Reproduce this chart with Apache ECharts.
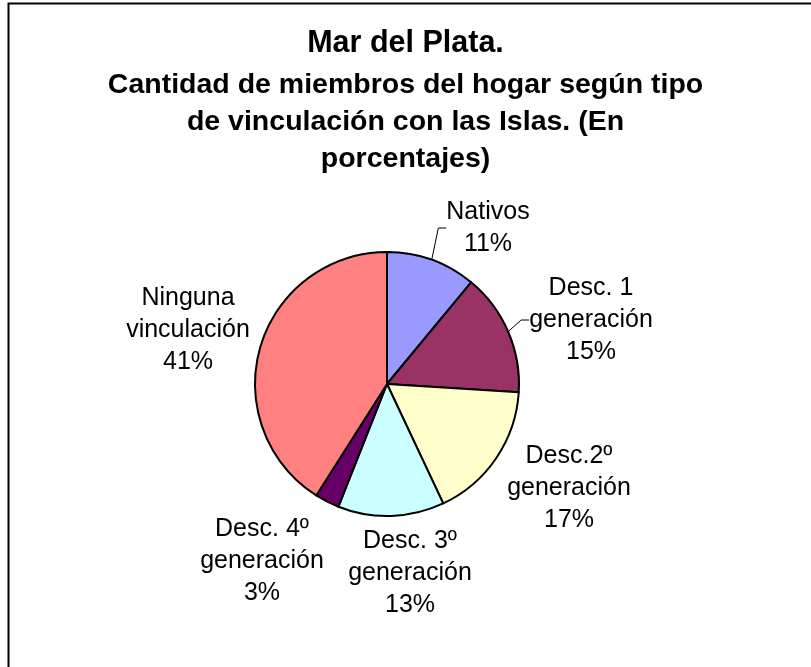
<!DOCTYPE html>
<html>
<head>
<meta charset="utf-8">
<title>Mar del Plata</title>
<script src="https://cdn.jsdelivr.net/npm/echarts@6/dist/echarts.min.js"></script>
<style>
  html, body { margin: 0; padding: 0; background: #fff; }
  #chart { width: 811px; height: 667px; }
</style>
</head>
<body>
<div id="chart"></div>
<script>
const categories = ['Nativos', 'Desc. 1\ngeneración', 'Desc.2º\ngeneración', 'Desc. 3º\ngeneración', 'Desc. 4º\ngeneración', 'Ninguna\nvinculación'];
const percentages = [11, 15, 17, 13, 3, 41];
const titleLines = ['Mar del Plata.', 'Cantidad de miembros del hogar según tipo', 'de vinculación con las Islas. (En', 'porcentajes)'];

// styling, kept apart from the values
const sliceColors = ['#9999FF', '#993366', '#FFFFCC', '#CCFFFF', '#660066', '#FF8080'];
const withLeader = [true, true, false, false, false, false];
const labelSpots = [[488, 228], [591, 320], [569, 488], [410, 573], [262, 561], [188, 330]];
const titleCentres = [44, 85, 122, 159];
const fontFamily = 'Arial, "Liberation Sans", sans-serif';

const chart = echarts.init(document.getElementById('chart'));

const titles = titleLines.map((t, i) => {
  const size = i === 0 ? 30.5 : 28.5;
  return {
    text: t,
    left: 'center',
    top: titleCentres[i] - size / 2,
    padding: 0,
    textStyle: {
      fontFamily: fontFamily,
      fontWeight: 'bold',
      fontSize: size,
      lineHeight: size,
      color: '#000'
    }
  };
});

chart.setOption({
  animation: false,
  title: titles,
  graphic: [{
    type: 'polyline',
    shape: { points: [[8.5, 667], [8.5, 3.5], [811, 3.5]] },
    style: { stroke: '#000', lineWidth: 2, fill: null },
    silent: true
  }],
  series: [{
    type: 'pie',
    center: [387, 384],
    radius: 132,
    startAngle: 90,
    clockwise: true,
    avoidLabelOverlap: false,
    emphasis: { disabled: true },
    itemStyle: { borderColor: '#000', borderWidth: 2 },
    label: {
      show: true,
      position: 'outside',
      fontFamily: fontFamily,
      fontSize: 25,
      lineHeight: 32,
      color: '#000',
      formatter: p => p.name + '\n' + p.value + '%'
    },
    labelLine: {
      length: 10,
      length2: 8,
      lineStyle: { color: '#000', width: 1 }
    },
    labelLayout: p => ({
      x: labelSpots[p.dataIndex][0],
      y: labelSpots[p.dataIndex][1],
      align: 'center',
      verticalAlign: 'middle'
    }),
    data: categories.map((c, i) => ({
      name: c,
      value: percentages[i],
      itemStyle: { color: sliceColors[i] },
      labelLine: { show: withLeader[i] }
    }))
  }]
});
</script>
</body>
</html>
